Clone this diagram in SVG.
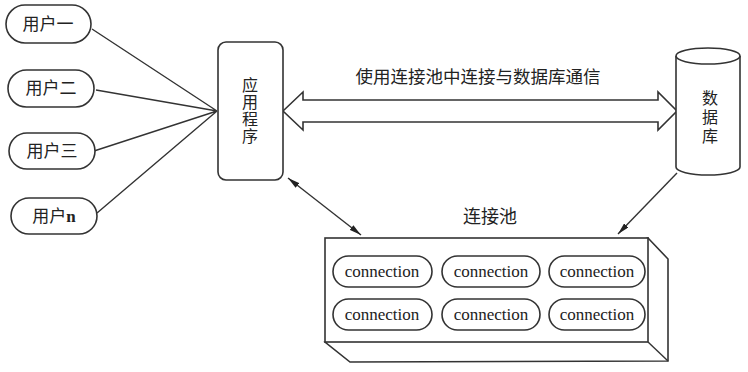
<svg xmlns="http://www.w3.org/2000/svg" width="748" height="372" viewBox="0 0 748 372">
<defs>
<style>
.s{fill:#fff;stroke:#333;stroke-width:1.6}
.l{fill:none;stroke:#333;stroke-width:1.4}
.cn{font-family:"Noto Sans CJK SC","Noto Sans",sans-serif;fill:#222}
.v{writing-mode:vertical-rl;font-size:16px}
.en{font-family:"Liberation Serif",serif;fill:#222;font-size:17px}
</style>
<marker id="ah" viewBox="0 0 12 6" refX="12" refY="3" markerWidth="12" markerHeight="6" markerUnits="userSpaceOnUse" orient="auto-start-reverse">
<path d="M0,0 L12,3 L0,6 Z" fill="#222"/>
</marker>
</defs>
<rect width="748" height="372" fill="#fff"/>
<g id="connectors">
<path class="l" d="M92,29 L217,111 M96,90 L217,111 M94,151 L217,111 M97,213 L217,111"/>
<line class="l" x1="288" y1="178" x2="361" y2="235" marker-start="url(#ah)" marker-end="url(#ah)"/>
<line class="l" x1="677" y1="173" x2="618" y2="234" marker-end="url(#ah)"/>
<path class="s" d="M283,111 L303,92 L303,100 L658,100 L658,92 L677,111 L658,130 L658,122 L303,122 L303,130 Z"/>
</g>
<g id="user1">
<rect class="s" x="6" y="5" width="85" height="38" rx="19"/>
<text class="cn" x="48" y="30" font-size="17" text-anchor="middle">用户一</text>
</g>
<g id="user2">
<rect class="s" x="8" y="70" width="86" height="37" rx="18.5"/>
<text class="cn" x="51" y="94" font-size="17" text-anchor="middle">用户二</text>
</g>
<g id="user3">
<rect class="s" x="9" y="133" width="86" height="36" rx="18"/>
<text class="cn" x="52" y="157" font-size="17" text-anchor="middle">用户三</text>
</g>
<g id="usern">
<rect class="s" x="11" y="198" width="86" height="36" rx="18"/>
<text class="cn" x="54" y="222" font-size="17" text-anchor="middle">用户<tspan font-family="Liberation Serif,serif" font-weight="bold">n</tspan></text>
</g>
<g id="app">
<rect class="s" x="218" y="42" width="65" height="138" rx="8"/>
<text class="cn v" x="250" y="77" letter-spacing="1">应用程序</text>
</g>
<text class="cn" x="478" y="83" font-size="17.5" text-anchor="middle">使用连接池中连接与数据库通信</text>
<g id="db">
<path class="s" d="M676,56 L676,167 A32,8 0 0 0 740,167 L740,56"/>
<ellipse class="s" cx="708" cy="56" rx="32" ry="8"/>
<text class="cn v" x="710" y="90" letter-spacing="3">数据库</text>
</g>
<g id="pool">
<text class="cn" x="490" y="223" font-size="18" text-anchor="middle">连接池</text>
<path class="s" d="M648,238 L668,259 L668,361 L350,362 L325,342 Z"/>
<line class="l" x1="648" y1="342" x2="668" y2="361"/>
<rect class="s" x="325" y="238" width="323" height="104"/>
<g>
<rect class="s" x="333" y="256" width="99" height="31" rx="15.5"/>
<rect class="s" x="442" y="256" width="98" height="31" rx="15.5"/>
<rect class="s" x="549" y="256" width="96" height="31" rx="15.5"/>
<rect class="s" x="333" y="299" width="99" height="31" rx="15.5"/>
<rect class="s" x="442" y="299" width="98" height="31" rx="15.5"/>
<rect class="s" x="549" y="299" width="96" height="31" rx="15.5"/>
<text class="en" x="382" y="277" text-anchor="middle">connection</text>
<text class="en" x="491" y="277" text-anchor="middle">connection</text>
<text class="en" x="597" y="277" text-anchor="middle">connection</text>
<text class="en" x="382" y="320" text-anchor="middle">connection</text>
<text class="en" x="491" y="320" text-anchor="middle">connection</text>
<text class="en" x="597" y="320" text-anchor="middle">connection</text>
</g>
</g>
</svg>
